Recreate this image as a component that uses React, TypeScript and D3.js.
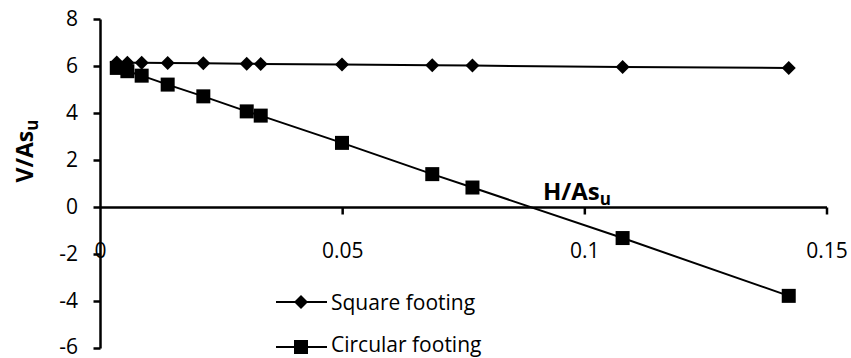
import React from "react";
import * as d3 from "d3";

const squareX = [0.00336, 0.00555, 0.0085, 0.01387, 0.02123, 0.03019, 0.03308, 0.04986, 0.0685, 0.0768, 0.1078, 0.1421];
const squareY = [6.17, 6.16, 6.16, 6.15, 6.14, 6.12, 6.11, 6.08, 6.05, 6.04, 5.98, 5.94];
const circleX = [0.00336, 0.00555, 0.0085, 0.01387, 0.02123, 0.03019, 0.03308, 0.04986, 0.0685, 0.0768, 0.1078, 0.1421];
const circleY = [5.94, 5.8, 5.61, 5.23, 4.73, 4.09, 3.91, 2.75, 1.42, 0.85, -1.3, -3.76];
const xTicks = [0, 0.05, 0.1, 0.15];
const xTickLabels = ["0", "0.05", "0.1", "0.15"];
const yTicks = [-6, -4, -2, 0, 2, 4, 6, 8];
const seriesNames = ["Square footing", "Circular footing"];

const FONT = "'Open Sans', 'Noto Sans', sans-serif";

export default function App() {
  const W = 851, H = 358;
  const x = d3.scaleLinear().domain([0, 0.15]).range([100.5, 827]);
  const y = d3.scaleLinear().domain([-6, 8]).range([348.5, 19.5]);
  const line = d3.line<[number, number]>().x(d => x(d[0])).y(d => y(d[1]));
  const sq: [number, number][] = squareX.map((v, i) => [v, squareY[i]]);
  const ci: [number, number][] = circleX.map((v, i) => [v, circleY[i]]);
  const diamond = (cx: number, cy: number, r: number) => `M${cx},${cy - r}L${cx + r},${cy}L${cx},${cy + r}L${cx - r},${cy}Z`;
  const y0 = y(0);
  return (
    <svg width={W} height={H} style={{ position: "absolute", left: 0, top: 0, background: "#fff" }} fontFamily={FONT}>
      <rect width={W} height={H} fill="#fff" />
      {/* y axis */}
      <line x1={x(0)} x2={x(0)} y1={y(8)} y2={y(-6)} stroke="#000" strokeWidth={2.5} />
      {yTicks.map(t => (
        <g key={t}>
          <line x1={x(0) - 7} x2={x(0)} y1={y(t)} y2={y(t)} stroke="#000" strokeWidth={2.5} />
          <text x={78} y={y(t) - (t === -6 ? 2 : 1)} dy="0.35em" textAnchor="end" fontSize={21} fill="#000">{t}</text>
        </g>
      ))}
      {/* x axis */}
      <line x1={x(0)} x2={x(0.15)} y1={y0} y2={y0} stroke="#000" strokeWidth={2.5} />
      {xTicks.map((t, i) => (
        <g key={t}>
          {t > 0 && <line x1={x(t)} x2={x(t)} y1={y0} y2={y0 + 7} stroke="#000" strokeWidth={2.5} />}
          <text x={x(t)} y={258} textAnchor="middle" fontSize={21} fill="#000">{xTickLabels[i]}</text>
        </g>
      ))}
      {/* series */}
      <path d={line(sq) || ""} fill="none" stroke="#000" strokeWidth={2} />
      <path d={line(ci) || ""} fill="none" stroke="#000" strokeWidth={2} />
      {sq.map((d, i) => <path key={"d" + i} d={diamond(x(d[0]), y(d[1]), 7)} fill="#000" />)}
      {ci.map((d, i) => <rect key={"s" + i} x={x(d[0]) - 7} y={y(d[1]) - 7} width={14} height={14} fill="#000" />)}
      {/* axis titles */}
      <text x={543} y={200} fontSize={24} fontWeight="bold" fill="#000">H/As<tspan fontSize={17} dy={5}>u</tspan></text>
      <text transform="translate(33,151) rotate(-90)" textAnchor="middle" fontSize={23} fontWeight="bold" fill="#000">V/As<tspan fontSize={17} dy={5}>u</tspan></text>
      {/* legend */}
      <line x1={276} x2={327} y1={302} y2={302} stroke="#000" strokeWidth={2} />
      <path d={diamond(301, 302, 7)} fill="#000" />
      <text x={331} y={303} dy="0.35em" fontSize={21} fill="#000">{seriesNames[0]}</text>
      <line x1={276} x2={327} y1={347} y2={347} stroke="#000" strokeWidth={2} />
      <rect x={294} y={340} width={14} height={14} fill="#000" />
      <text x={331} y={345} dy="0.35em" fontSize={21} fill="#000">{seriesNames[1]}</text>
    </svg>
  );
}
